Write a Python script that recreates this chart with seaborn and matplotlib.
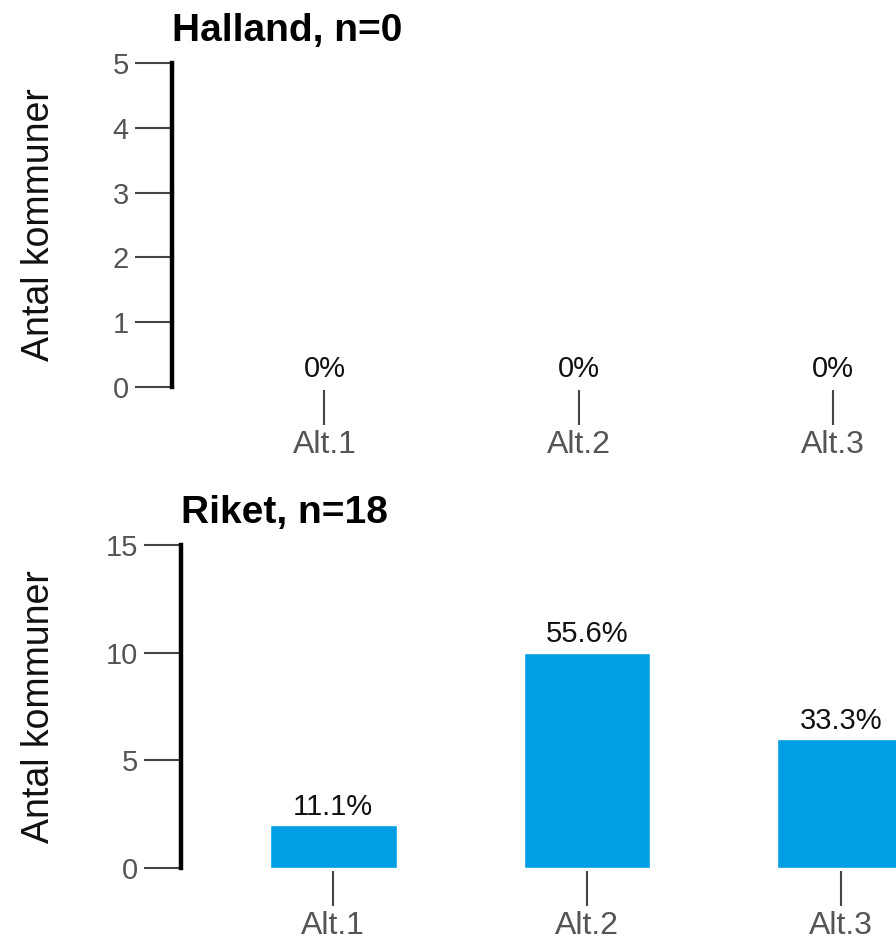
import matplotlib
matplotlib.use("Agg")
import matplotlib.pyplot as plt
import seaborn as sns
import pandas as pd

# data
categories = ["Alt.1", "Alt.2", "Alt.3"]
halland_counts = [0, 0, 0]
halland_pct = ["0%", "0%", "0%"]
riket_counts = [2, 10, 6]
riket_pct = ["11.1%", "55.6%", "33.3%"]

sns.set_style("white")
plt.rcParams['font.family'] = ['Liberation Sans', 'DejaVu Sans']

fig = plt.figure(figsize=(8.96, 9.42), dpi=100)
# axes run past the right edge, like the original
ax1 = fig.add_axes([172/896, 1 - 387/942, 813/896, 324/942])
ax2 = fig.add_axes([181/896, 1 - 868/942, 812/896, 323/942])


def panel(ax, counts, pct, title, ymax, step, axleft):
    df = pd.DataFrame({"alt": categories, "antal": counts})
    sns.barplot(data=df, x="alt", y="antal", color="#009FE3", saturation=1,
                width=0.5, ax=ax)
    ax.bar_label(ax.containers[0], labels=pct, padding=3, fontsize=21, color="#111111")
    ax.set_xlim(-0.6, 2.6)
    ax.set_ylim(0, ymax)
    ax.set_yticks(range(0, ymax + 1, step))
    ax.set_title(title, loc="left", fontsize=28, fontweight="bold", pad=16, color="black")
    ax.set_xlabel("")
    ax.set_ylabel("Antal kommuner", fontsize=27, color="#111111")
    ax.yaxis.set_label_coords((57 - axleft) / 813, 0.5)

    for s in ["top", "right"]:
        ax.spines[s].set_visible(False)
    ax.spines["bottom"].set_position(("outward", 2))
    ax.spines["bottom"].set_visible(False)
    ax.spines["left"].set_linewidth(3.2)
    ax.spines["left"].set_color("black")

    ax.tick_params(axis="y", left=True, length=27, width=1.5, color="#444444",
                   labelsize=21, labelcolor="#555555", pad=4)
    ax.tick_params(axis="x", bottom=True, length=25, width=1.5, color="#444444",
                   labelsize=23, labelcolor="#555555", pad=4)


panel(ax1, halland_counts, halland_pct, "Halland, n=0", 5, 1, 172)
panel(ax2, riket_counts, riket_pct, "Riket, n=18", 15, 5, 181)

fig.savefig("out.png", dpi=100)
